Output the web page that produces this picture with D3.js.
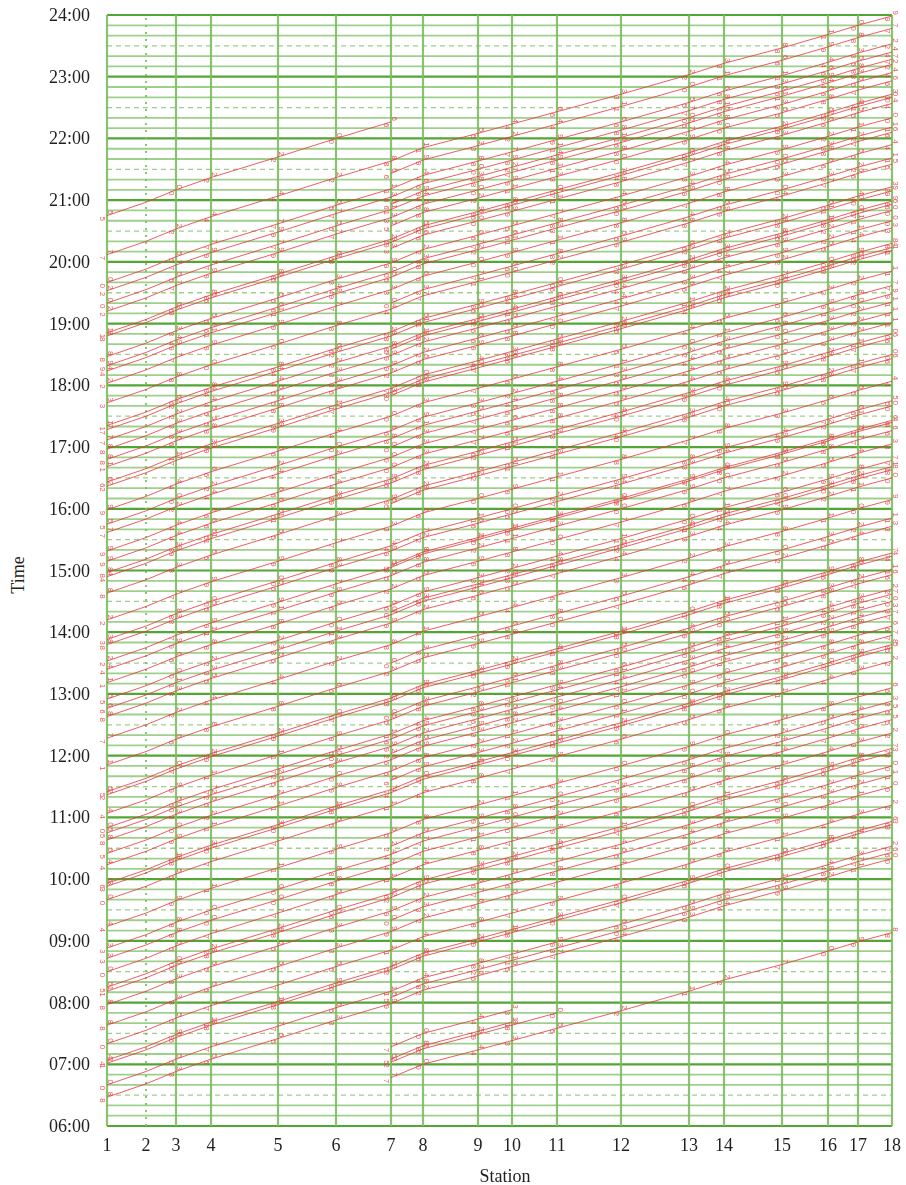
<!DOCTYPE html>
<html>
<head>
<meta charset="utf-8">
<script src="https://cdn.jsdelivr.net/npm/d3@7"></script>
<style>
body{margin:0;background:#fff;}
svg{display:block;}
</style>
</head>
<body>
<div class="chart"></div>
<script>
const stations = ["1","2","3","4","5","6","7","8","9","10","11","12","13","14","15","16","17","18"];
const stationKm = [0, 39, 69, 104, 171, 229, 284, 316, 371, 405, 450, 514, 582, 617, 675, 721, 751, 785];
// running time (minutes) from station 1 to each station
const runMin = [0, 13, 25, 37, 57, 75, 91, 104, 118, 127, 139, 156, 175, 186, 201, 214, 223, 232];
const hourTicks = ["06:00","07:00","08:00","09:00","10:00","11:00","12:00","13:00","14:00","15:00",
                   "16:00","17:00","18:00","19:00","20:00","21:00","22:00","23:00","24:00"];

// departures from station 1 running to station 18
const throughDeps = ["06:28","06:40","07:01","07:04","07:20","07:38","07:58","08:11","08:15","08:30",
    "08:43","08:53","09:14","09:40","09:53","09:56","10:14","10:25","10:38","10:45","10:50","11:04",
    "11:22","11:25","11:51","12:17","12:38","12:46","12:55","13:11","13:24","13:32","13:48","13:53",
    "14:12","14:38","14:54","14:58","15:09","15:19","15:37","15:45","15:59","16:22","16:26","16:41",
    "16:48","16:58","17:07","17:17","17:21","17:43","18:02","18:14","18:19","18:28","18:48","18:51",
    "19:12","19:20","19:32","19:40","20:07"];
// departures from station 1 turning back at station 7
const shortDeps = ["20:45"];
// trains starting at station 7: [from, to, departure]
const branchTrains = [[7,18,"06:47"],[7,11,"07:02"],[7,10,"07:05"],[7,10,"07:17"],
    [7,18,"08:05"],[7,18,"09:20"],[7,18,"10:32"],[7,18,"11:36"],[7,18,"12:02"],[7,18,"12:40"],
    [7,18,"13:30"],[7,18,"14:20"],[7,18,"15:05"],[7,18,"16:05"],[7,18,"17:00"],[7,18,"17:50"],
    [7,18,"18:35"],[7,18,"19:20"],[7,18,"20:13"],[7,18,"20:35"],[7,18,"20:56"],[7,18,"21:26"]];
// station 2 is passed without stopping (dotted line, no minute marks)
const passStations = [2];

const toMin = s => { const p = s.split(":"); return +p[0]*60 + +p[1]; };

const trains = [];
throughDeps.forEach(d => trains.push({from:1, to:18, dep:toMin(d)}));
shortDeps.forEach(d => trains.push({from:1, to:7, dep:toMin(d)}));
branchTrains.forEach(b => trains.push({from:b[0], to:b[1], dep:toMin(b[2])}));
trains.forEach(t => {
    t.pts = [];
    for(let s = t.from; s <= t.to; s++){
        t.pts.push({s:s-1, t:t.dep + runMin[s-1] - runMin[t.from-1]});
    }
});

const width = 906, height = 1185;
const svg = d3.select(".chart").append("svg").attr("width",width).attr("height",height);

const x = d3.scaleLinear().domain([0, 785]).range([107, 892]);
const y = d3.scaleLinear().domain([6*60, 24*60]).range([1126, 15]);

const grid = svg.append("g").classed("grid",true);
// horizontal lines every 10 minutes
const tenMin = d3.range(6*60, 24*60+1, 10);
grid.selectAll(".hline")
    .data(tenMin)
    .join("line")
    .classed("hline",true)
    .attr("x1",x(0)).attr("x2",x(785))
    .attr("y1",d=>y(d)).attr("y2",d=>y(d))
    .attr("stroke",d=>d%60===0?"#52a634":"#9dd08a")
    .attr("stroke-width",d=>d%60===0?2.2:(d%30===0?1.3:1.8))
    .attr("stroke-dasharray",d=>(d%60!==0 && d%30===0)?"5,4":null);

// station lines
grid.selectAll(".vline")
    .data(stationKm)
    .join("line")
    .classed("vline",true)
    .attr("x1",d=>x(d)).attr("x2",d=>x(d))
    .attr("y1",y(6*60)).attr("y2",y(24*60))
    .attr("stroke",(d,i)=>i===1?"#7cc062":"#7dbd62")
    .attr("stroke-width",(d,i)=>i===1?2:2.2)
    .attr("stroke-dasharray",(d,i)=>i===1?"2,5":null)
    .attr("opacity",0.9);

// train paths
const line = d3.line().x(d=>x(stationKm[d.s])).y(d=>y(d.t));
const trainG = svg.append("g").classed("trains",true);
trainG.selectAll("path")
    .data(trains)
    .join("path")
    .attr("d",d=>line(d.pts))
    .attr("fill","none")
    .attr("stroke","#e8383d")
    .attr("stroke-width",0.9)
    .attr("opacity",0.9);

// minute digits at each station crossing
const marks = trains.flatMap(t => t.pts).filter(d => !passStations.includes(d.s+1));
const lab = svg.append("g").classed("minutes",true)
    .style("font-family","'Liberation Sans', sans-serif")
    .style("font-size","8px")
    .attr("fill","#e8383d")
    .attr("opacity",0.85);
lab.selectAll(".dep")
    .data(marks)
    .join("text")
    .classed("dep",true)
    .attr("transform",d=>`translate(${x(stationKm[d.s])+1},${y(d.t)-1}) rotate(90)`)
    .attr("text-anchor","end")
    .text(d=>Math.round(d.t)%10);
lab.selectAll(".arr")
    .data(marks)
    .join("text")
    .classed("arr",true)
    .attr("transform",d=>`translate(${x(stationKm[d.s])-7},${y(d.t)+1}) rotate(90)`)
    .attr("text-anchor","start")
    .text(d=>Math.round(d.t)%10);

// axes text
const txt = svg.append("g")
    .style("font-family","'Liberation Serif', 'DejaVu Serif', serif")
    .attr("fill","#231f20");
txt.selectAll(".ylab")
    .data(hourTicks)
    .join("text")
    .classed("ylab",true)
    .attr("x",90)
    .attr("y",(d,i)=>y(toMin(d))+6)
    .attr("text-anchor","end")
    .style("font-size","18px")
    .text(d=>d);
txt.selectAll(".xlab")
    .data(stations)
    .join("text")
    .classed("xlab",true)
    .attr("x",(d,i)=>x(stationKm[i]))
    .attr("y",1151)
    .attr("text-anchor","middle")
    .style("font-size","18px")
    .text(d=>d);
txt.append("text")
    .attr("x",505).attr("y",1182)
    .attr("text-anchor","middle")
    .style("font-size","18px")
    .text("Station");
txt.append("text")
    .attr("transform","translate(24,575) rotate(-90)")
    .attr("text-anchor","middle")
    .style("font-size","18px")
    .text("Time");
</script>
</body>
</html>
